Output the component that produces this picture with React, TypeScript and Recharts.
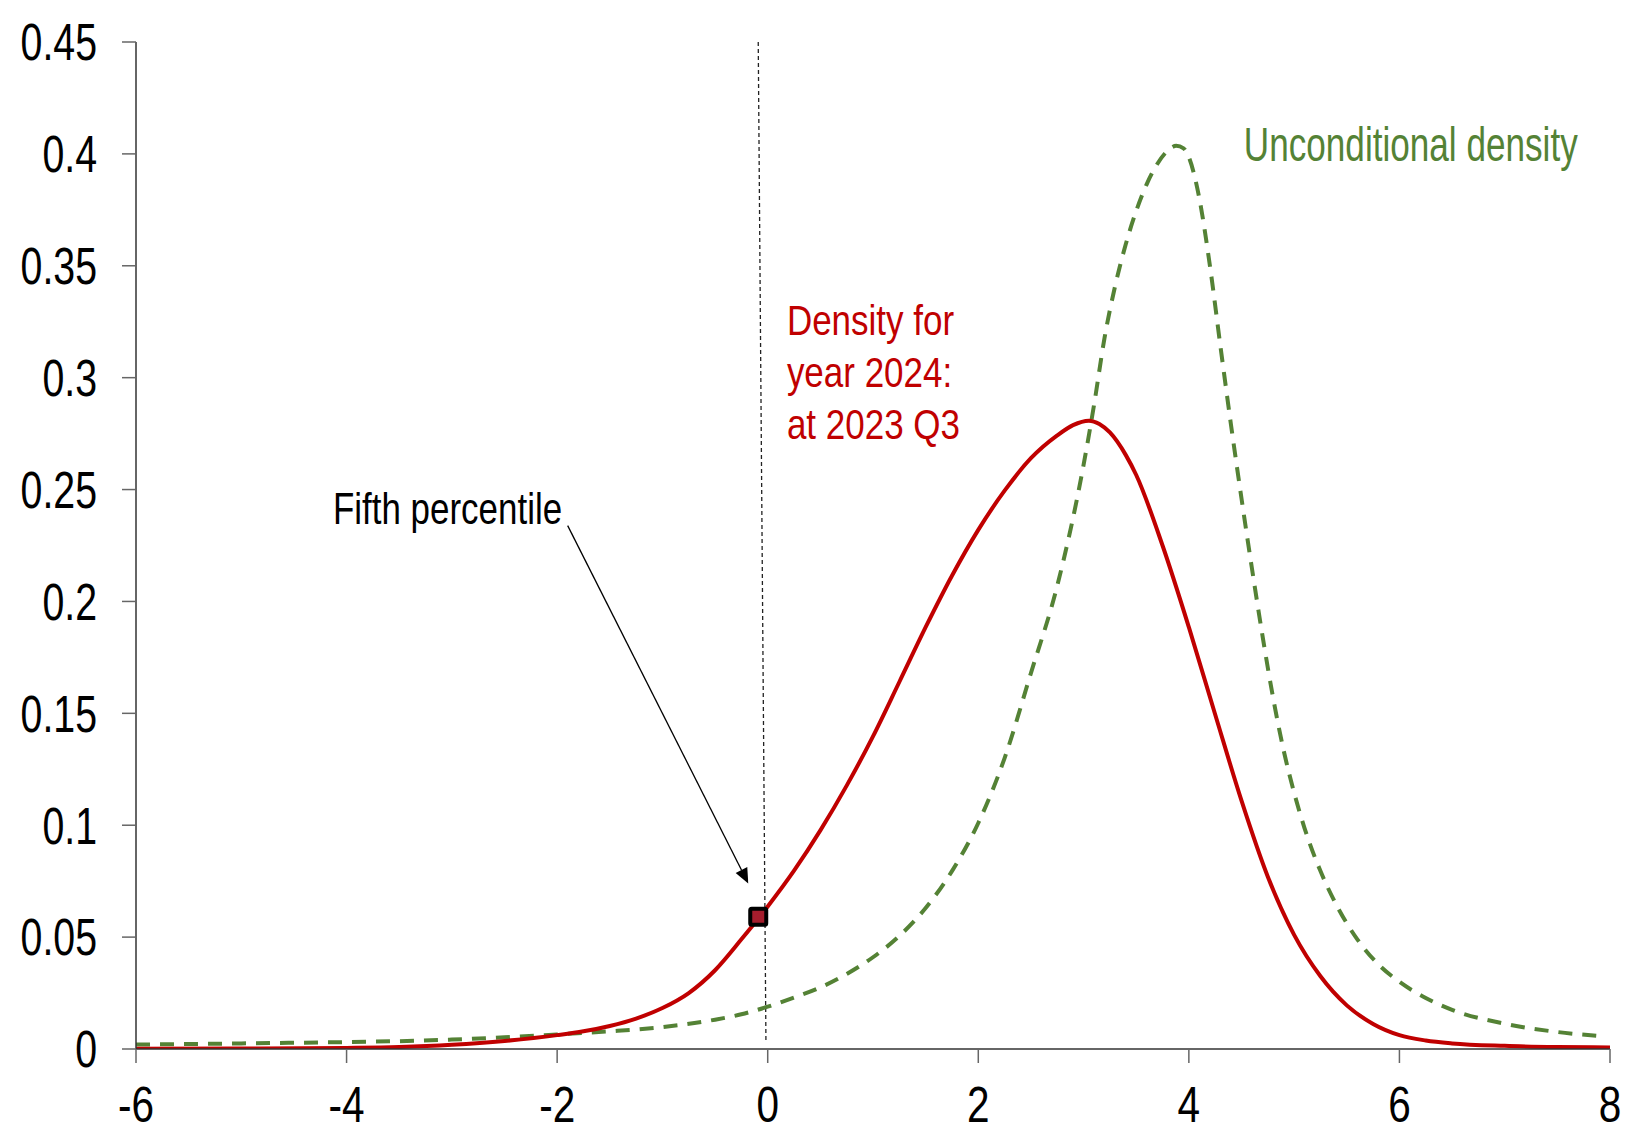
import React from 'react';
import { ComposedChart, Line, XAxis, YAxis, ReferenceLine, ReferenceDot } from 'recharts';

// ---- data ----
const xTicks = [-6, -4, -2, 0, 2, 4, 6, 8];
const yTicks = [0, 0.05, 0.1, 0.15, 0.2, 0.25, 0.3, 0.35, 0.4, 0.45];

// Density for year 2024: at 2023 Q3 (red, solid)
const densityX = [-6, -5, -4, -3.5, -3, -2.5, -2, -1.75, -1.5, -1.25, -1, -0.75, -0.5, -0.25, 0, 0.25, 0.5, 0.75, 1, 1.25, 1.5, 1.75, 2, 2.25, 2.5, 2.75, 2.9, 3.05, 3.15, 3.25, 3.4, 3.5, 3.75, 4, 4.25, 4.5, 4.75, 5, 5.25, 5.5, 5.75, 6, 6.25, 6.5, 7, 7.5, 8];
const densityY = [0.0001, 0.0002, 0.0005, 0.0009, 0.0019, 0.0036, 0.0062, 0.0079, 0.0103, 0.0136, 0.0183, 0.025, 0.0352, 0.049, 0.0637, 0.0797, 0.0977, 0.1177, 0.1397, 0.164, 0.1885, 0.2115, 0.232, 0.2495, 0.264, 0.2742, 0.2788, 0.2808, 0.2793, 0.2755, 0.2655, 0.2565, 0.225, 0.1885, 0.1495, 0.111, 0.077, 0.051, 0.0325, 0.0195, 0.0112, 0.0062, 0.0038, 0.0025, 0.0014, 0.0009, 0.0007];

// Unconditional density (green, dashed)
const uncondX = [-6, -5, -4, -3.5, -3, -2.5, -2, -1.5, -1, -0.5, -0.25, 0, 0.25, 0.5, 0.75, 1, 1.25, 1.5, 1.75, 2, 2.25, 2.5, 2.75, 3, 3.1, 3.2, 3.3, 3.4, 3.5, 3.6, 3.7, 3.8, 3.88, 3.95, 4, 4.1, 4.2, 4.3, 4.4, 4.5, 4.6, 4.7, 4.8, 4.9, 5, 5.1, 5.25, 5.4, 5.6, 5.8, 6, 6.25, 6.5, 7, 7.5, 7.9];
const uncondY = [0.002, 0.0025, 0.0031, 0.0035, 0.0042, 0.0052, 0.0065, 0.0079, 0.0098, 0.0131, 0.0155, 0.0189, 0.023, 0.0275, 0.0335, 0.041, 0.0505, 0.063, 0.0795, 0.101, 0.13, 0.168, 0.207, 0.261, 0.288, 0.318, 0.341, 0.3595, 0.3745, 0.3865, 0.3955, 0.4015, 0.4036, 0.4025, 0.3985, 0.38, 0.35, 0.314, 0.279, 0.246, 0.2145, 0.1845, 0.157, 0.1335, 0.1145, 0.0985, 0.0795, 0.0645, 0.049, 0.0378, 0.03, 0.0228, 0.0175, 0.0113, 0.0076, 0.0058];

// Fifth percentile point
const fifthPercentile = { x: -0.09, y: 0.0591 };

const densityData = densityX.map((x, i) => ({ x, y: densityY[i] }));
const uncondData = uncondX.map((x, i) => ({ x, y: uncondY[i] }));

const RED = '#C00000';
const GREEN = '#548235';
const FONT = "'Liberation Sans', Arial, sans-serif";

const YTick = (props: any) => {
  const { x, y, payload } = props;
  return (
    <g transform={`translate(${x},${y + 18.3})`}>
      <text transform="scale(0.77,1)" textAnchor="end" fontSize={51} fontFamily={FONT} fill="#000">
        {String(payload.value)}
      </text>
    </g>
  );
};

const XTick = (props: any) => {
  const { x, y, payload } = props;
  return (
    <g transform={`translate(${x},${y + 59})`}>
      <text transform="scale(0.81,1)" textAnchor="middle" fontSize={50} fontFamily={FONT} fill="#000">
        {String(payload.value)}
      </text>
    </g>
  );
};

const arrowShape = (p: any) => {
  const { x1, y1, x2, y2 } = p;
  const dx = x2 - x1;
  const dy = y2 - y1;
  const len = Math.sqrt(dx * dx + dy * dy);
  const ux = dx / len;
  const uy = dy / len;
  const hl = 15;
  const hw = 6.5;
  const bx = x2 - ux * hl;
  const by = y2 - uy * hl;
  const pts = `${x2},${y2} ${bx - uy * hw},${by + ux * hw} ${bx + uy * hw},${by - ux * hw}`;
  return (
    <g>
      <line x1={x1} y1={y1} x2={bx} y2={by} stroke="#000" strokeWidth={1.3} />
      <polygon points={pts} fill="#000" />
    </g>
  );
};

const textShape = (lines: string[], sx: number, color: string, size: number, lh: number) => (p: any) => {
  const { cx, cy } = p;
  return (
    <g transform={`translate(${cx},${cy}) scale(${sx},1)`}>
      {lines.map((t, i) => (
        <text key={i} x={0} y={i * lh} fontSize={size} fontFamily={FONT} fill={color}>
          {t}
        </text>
      ))}
    </g>
  );
};

const markerShape = (p: any) => {
  const { cx, cy } = p;
  return <rect x={cx - 8} y={cy - 8} width={16} height={16} rx={1.5} fill="#A51D2D" stroke="#000" strokeWidth={4} />;
};

export default function App() {
  return (
    <div style={{ position: 'absolute', left: 0, top: 0, background: '#fff' }}>
      <ComposedChart width={1625} height={1133} margin={{ top: 42, right: 15, bottom: 0, left: 0 }}>
        <XAxis
          type="number"
          dataKey="x"
          domain={[-6, 8]}
          ticks={xTicks}
          allowDataOverflow
          height={84}
          tickSize={14}
          tickMargin={0}
          axisLine={{ stroke: '#333', strokeWidth: 1.5 }}
          tickLine={{ stroke: '#666', strokeWidth: 1.5 }}
          tick={<XTick />}
          interval={0}
        />
        <YAxis
          type="number"
          domain={[0, 0.45]}
          ticks={yTicks}
          allowDataOverflow
          width={136}
          tickSize={14}
          tickMargin={25}
          axisLine={{ stroke: '#333', strokeWidth: 1.5 }}
          tickLine={{ stroke: '#666', strokeWidth: 1.5 }}
          tick={<YTick />}
          interval={0}
        />
        <ReferenceLine
          segment={[{ x: -0.09, y: 0.45 }, { x: -0.017, y: 0.004 }]}
          stroke="#222"
          strokeWidth={1.3}
          strokeDasharray="4 3"
          ifOverflow="visible"
        />
        <Line
          data={uncondData}
          dataKey="y"
          type="monotone"
          stroke={GREEN}
          strokeWidth={4}
          strokeDasharray="14 10"
          dot={false}
          activeDot={false}
          isAnimationActive={false}
        />
        <Line
          data={densityData}
          dataKey="y"
          type="monotone"
          stroke={RED}
          strokeWidth={4}
          dot={false}
          activeDot={false}
          isAnimationActive={false}
        />
        <ReferenceLine
          segment={[{ x: -1.9, y: 0.2339 }, { x: -0.185, y: 0.074 }]}
          shape={arrowShape}
          ifOverflow="visible"
        />
        <ReferenceDot x={fifthPercentile.x} y={fifthPercentile.y} r={10} shape={markerShape} ifOverflow="visible" />
        <ReferenceDot
          x={4.522}
          y={0.3969}
          r={1}
          ifOverflow="visible"
          shape={textShape(['Unconditional density'], 0.717, GREEN, 49, 0)}
        />
        <ReferenceDot
          x={0.182}
          y={0.3191}
          r={1}
          ifOverflow="visible"
          shape={textShape(['Density for', 'year 2024:', 'at 2023 Q3'], 0.814, RED, 43, 52)}
        />
        <ReferenceDot
          x={-4.129}
          y={0.2348}
          r={1}
          ifOverflow="visible"
          shape={textShape(['Fifth percentile'], 0.794, '#000', 44, 0)}
        />
      </ComposedChart>
    </div>
  );
}
